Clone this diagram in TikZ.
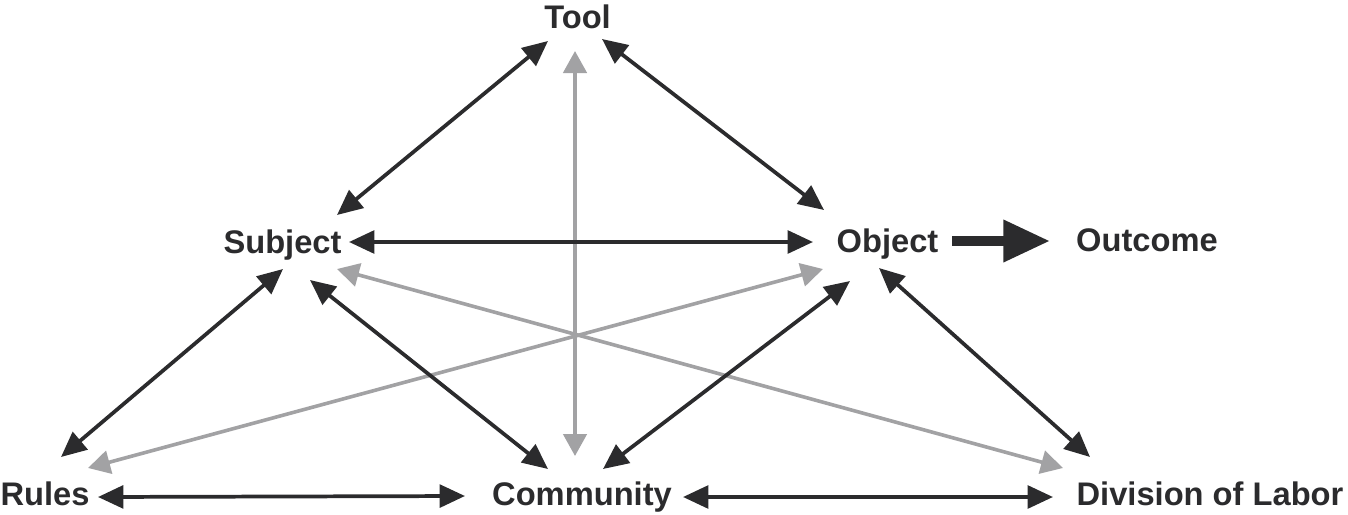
\documentclass[tikz,border=0pt]{standalone}
\usepackage{fontspec}
\setmainfont{Liberation Sans}
\usepackage{xcolor}
\usetikzlibrary{arrows.meta}

\definecolor{inkdark}{RGB}{43,43,45}
\definecolor{inkgray}{RGB}{162,162,164}

\tikzset{
  lbl/.style={anchor=base, inner sep=0pt, text=inkdark, font=\fontsize{24.5}{29}\selectfont\bfseries},
  dbl/.style={{Triangle[length=19pt,width=17pt]}-{Triangle[length=19pt,width=17pt]}, line width=2.8pt, draw=inkdark},
  gdbl/.style={{Triangle[length=16.5pt,width=17.5pt]}-{Triangle[length=16.5pt,width=17.5pt]}, line width=2.7pt, draw=inkgray},
  fat/.style={-{Triangle[length=35pt,width=30pt]}, line width=7.5pt, draw=inkdark}
}

\begin{document}
\begin{tikzpicture}[x=0.75pt,y=-0.75pt]
\useasboundingbox (0,0) rectangle (1348,514);

% Text Node
\node[lbl] (tool) at (577.5,28) {Tool};
% Text Node
\node[lbl] (subject) at (282.5,253) {Subject};
% Text Node
\node[lbl] (object) at (887.5,252) {Object};
% Text Node
\node[lbl] (outcome) at (1147,251) {Outcome};
% Text Node
\node[lbl] (rules) at (45,505) {Rules};
% Text Node
\node[lbl] (community) at (582,505) {Community};
% Text Node
\node[lbl] (labor) at (1210,505) {Division of Labor};

%Gray lines
\draw[gdbl] ([shift={(-2.5,23)}]tool.base) -- ([shift={(-7,-49)}]community.base);
\draw[gdbl] ([shift={(54.5,16)}]subject.base) -- ([shift={(-147,-37)}]labor.base);
\draw[gdbl] ([shift={(-64.5,17)}]object.base) -- ([shift={(43,-37)}]rules.base);

%Black lines
\draw[dbl] ([shift={(54.5,-38)}]subject.base) -- ([shift={(-29.5,13)}]tool.base);
\draw[dbl] ([shift={(24.5,11)}]tool.base) -- ([shift={(-63.5,-42)}]object.base);
\draw[dbl] ([shift={(66.5,-11)}]subject.base) -- ([shift={(-74.5,-10)}]object.base);
\draw[dbl] ([shift={(0.5,16)}]subject.base) -- ([shift={(16,-48)}]rules.base);
\draw[dbl] ([shift={(27.5,27)}]subject.base) -- ([shift={(-34,-36)}]community.base);
\draw[dbl] ([shift={(-37.5,29)}]object.base) -- ([shift={(21,-36)}]community.base);
\draw[dbl] ([shift={(-8.5,16)}]object.base) -- ([shift={(-120,-48)}]labor.base);
\draw[dbl] ([shift={(53,-8)}]rules.base) -- ([shift={(-117,-9)}]community.base);
\draw[dbl] ([shift={(101,-8)}]community.base) -- ([shift={(-157,-8)}]labor.base);

%Outcome arrow
\draw[fat] ([shift={(64.5,-11)}]object.base) -- ([shift={(-97,-10)}]outcome.base);

\end{tikzpicture}
\end{document}
